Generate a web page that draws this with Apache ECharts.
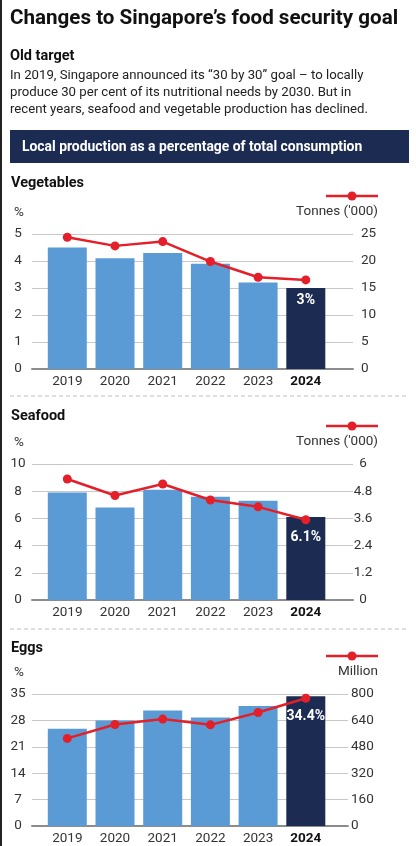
<!DOCTYPE html>
<html>
<head>
<meta charset="utf-8">
<script src="https://cdn.jsdelivr.net/npm/echarts@6/dist/echarts.min.js"></script>
<style>
  html, body { margin: 0; padding: 0; background: #fff; }
  #chart { width: 416px; height: 846px; }
</style>
</head>
<body>
<div id="chart"></div>
<script>
  const years = ["2019", "2020", "2021", "2022", "2023", "2024"];

  const vegShare = [4.5, 4.1, 4.3, 3.9, 3.2, 3.0];
  const vegTonnes = [24.4, 22.8, 23.6, 19.9, 17.0, 16.5];
  const seafoodShare = [7.9, 6.8, 8.1, 7.6, 7.3, 6.1];
  const seafoodTonnes = [5.34, 4.61, 5.12, 4.41, 4.11, 3.54];
  const eggShare = [25.8, 28.0, 30.6, 28.8, 31.8, 34.4];
  const eggMillion = [531, 615, 648, 613, 688, 774];

  const vegTicks = { left: [5, 1], right: [25, 5] };
  const seafoodTicks = { left: [10, 2], right: [6, 1.2] };
  const eggTicks = { left: [35, 7], right: [800, 160] };

  const lastLabels = ["3%", "6.1%", "34.4%"];

  const FONT = "Roboto";
  const BLUE = "#5b9bd5";
  const NAVY = "#1b2b52";
  const RED = "#e3202a";
  const GRID = "#c8c8c8";

  // panel layout: top / bottom of plot in px, plot right edge
  const panels = [
    { top: 234, bottom: 369, right: 353, share: vegShare, line: vegTonnes, ticks: vegTicks,
      title: "Vegetables", unit: "Tonnes ('000)", labelDist: 5, rAlign: "left", rMargin: 8 },
    { top: 464, bottom: 600, right: 353, share: seafoodShare, line: seafoodTonnes, ticks: seafoodTicks,
      title: "Seafood", unit: "Tonnes ('000)", labelDist: 13, rAlign: "center", rMargin: 10 },
    { top: 694, bottom: 830, right: 348, share: eggShare, line: eggMillion, ticks: eggTicks,
      title: "Eggs", unit: "Million", labelDist: 13, rAlign: "left", rMargin: 3 }
  ];
  const LEFT = 32, FIRST = 67.3, STEP = 47.7, H = 846;

  const grid = [], xAxis = [], yAxis = [], series = [];
  panels.forEach((p, k) => {
    grid.push({ left: LEFT, width: p.right - LEFT, top: p.top, height: p.bottom - p.top });
    const min = -(FIRST - LEFT) / STEP;
    xAxis.push({
      type: "value", gridIndex: k, min: min, max: min + (p.right - LEFT) / STEP,
      splitLine: { show: false },
      axisTick: { show: false },
      axisLine: { show: true, onZero: false, lineStyle: { color: "#8c8c8c", width: 2 } },
      axisLabel: {
        customValues: [0, 1, 2, 3, 4, 5],
        margin: 6,
        fontFamily: FONT, fontSize: 13.5, color: "#333",
        formatter: (v) => (v === 5 ? "{b|" + years[v] + "}" : years[v]),
        rich: { b: { fontFamily: FONT, fontSize: 13.5, fontWeight: "bold", color: "#111" } }
      }
    });
    yAxis.push({
      type: "value", gridIndex: k, min: 0, max: p.ticks.left[0], interval: p.ticks.left[1],
      axisLine: { show: false }, axisTick: { show: false },
      splitLine: { show: true, lineStyle: { color: GRID, width: 1 } },
      axisLabel: { fontFamily: FONT, fontSize: 13.5, color: "#333", align: "center", margin: 14 }
    });
    yAxis.push({
      type: "value", gridIndex: k, position: "right", min: 0, max: p.ticks.right[0], interval: p.ticks.right[1],
      axisLine: { show: false }, axisTick: { show: false }, splitLine: { show: false },
      axisLabel: { fontFamily: FONT, fontSize: 13.5, color: "#333", align: p.rAlign, margin: p.rMargin }
    });
    series.push({
      type: "bar", xAxisIndex: k, yAxisIndex: 2 * k, barWidth: 39,
      data: p.share.map((v, i) => {
        const last = i === p.share.length - 1;
        return {
          value: [i, v],
          itemStyle: { color: last ? NAVY : BLUE },
          label: last ? {
            show: true, position: "insideTop", distance: p.labelDist,
            formatter: lastLabels[k], color: "#fff",
            fontFamily: FONT, fontSize: 14, fontWeight: "bold"
          } : { show: false }
        };
      }),
      z: 2
    });
    series.push({
      type: "line", xAxisIndex: k, yAxisIndex: 2 * k + 1,
      data: p.line.map((v, i) => [i, v]),
      symbol: "circle", symbolSize: 9,
      lineStyle: { color: RED, width: 2.5 },
      itemStyle: { color: RED },
      z: 3
    });
  });

  const txt = (x, y, text, font, extra) => ({
    type: "text", silent: true,
    style: Object.assign({ x: x, y: y, text: text, font: font, fill: "#111",
      textAlign: "left", textVerticalAlign: "middle" }, extra || {})
  });

  const graphic = [
    { type: "rect", shape: { x: 0, y: 0, width: 2, height: H }, style: { fill: "#222" } },
    txt(10, 19, "Changes to Singapore\u2019s food security goal", "bold 20.6px " + FONT),
    txt(10, 56, "Old target", "bold 14.5px " + FONT),
    txt(10, 76, "In 2019, Singapore announced its \u201c30 by 30\u201d goal \u2013 to locally", "13.2px " + FONT, { fill: "#222" }),
    txt(10, 93, "produce 30 per cent of its nutritional needs by 2030. But in", "13.2px " + FONT, { fill: "#222" }),
    txt(10, 109.5, "recent years, seafood and vegetable production has declined.", "13.2px " + FONT, { fill: "#222" }),
    { type: "rect", shape: { x: 10, y: 130, width: 399, height: 33 }, style: { fill: NAVY } },
    txt(22, 148, "Local production as a percentage of total consumption", "bold 13.9px " + FONT, { fill: "#fff" }),
    { type: "line", shape: { x1: 10, y1: 396, x2: 409, y2: 396 }, style: { stroke: "#bdbdbd", lineWidth: 1, lineDash: [4, 3] } },
    { type: "line", shape: { x1: 10, y1: 629, x2: 409, y2: 629 }, style: { stroke: "#bdbdbd", lineWidth: 1, lineDash: [4, 3] } }
  ];
  const titleY = [183, 416, 648];
  panels.forEach((p, k) => {
    const ly = p.top - 38;
    graphic.push(txt(11, titleY[k], p.title, "bold 14.5px " + FONT));
    graphic.push(txt(19, p.top - 21, "%", "13.5px " + FONT, { fill: "#333", textAlign: "center" }));
    graphic.push(txt(378, p.top - 22, p.unit, "13.5px " + FONT, { fill: "#333", textAlign: "right" }));
    graphic.push({ type: "line", shape: { x1: 326, y1: ly, x2: 378, y2: ly }, style: { stroke: RED, lineWidth: 2.5 } });
    graphic.push({ type: "circle", shape: { cx: 352, cy: ly, r: 4.5 }, style: { fill: RED } });
  });

  const chart = echarts.init(document.getElementById("chart"), null, { renderer: "canvas" });
  chart.setOption({
    animation: false,
    textStyle: { fontFamily: FONT },
    grid: grid,
    xAxis: xAxis,
    yAxis: yAxis,
    series: series,
    graphic: graphic
  });
</script>
</body>
</html>
